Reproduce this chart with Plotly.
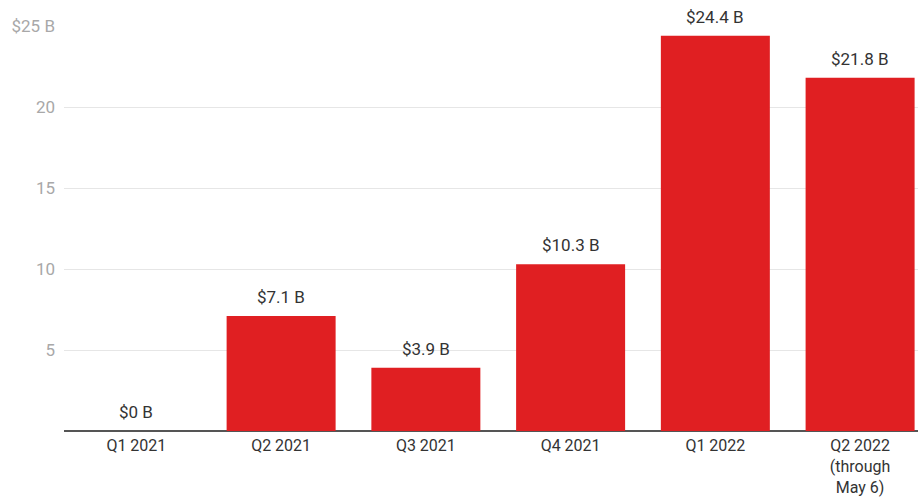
import plotly.graph_objects as go

quarters = ["Q1 2021", "Q2 2021", "Q3 2021", "Q4 2021", "Q1 2022", "Q2 2022<br>(through<br>May 6)"]
values = [0, 7.1, 3.9, 10.3, 24.4, 21.8]
value_labels = ["$0 B", "$7.1 B", "$3.9 B", "$10.3 B", "$24.4 B", "$21.8 B"]
tick_vals = [0, 5, 10, 15, 20, 25]
tick_text = ["", "5", "10", "15", "20", "$25 B"]

xs = list(range(len(quarters)))

fig = go.Figure()
fig.add_trace(go.Bar(
    x=xs, y=values,
    marker=dict(color="#e01f22", line=dict(width=0)),
    hoverinfo="skip",
))

for x, v, lbl in zip(xs, values, value_labels):
    fig.add_annotation(
        x=x, y=v, text=lbl, showarrow=False,
        yanchor="bottom", yshift=7,
        font=dict(family="Roboto", size=17, color="#333333"),
    )

fig.update_layout(
    width=918, height=498,
    margin=dict(l=64, r=0, t=26, b=67),
    paper_bgcolor="white", plot_bgcolor="white",
    bargap=0.247,
    showlegend=False,
    font=dict(family="Roboto"),
    xaxis=dict(
        tickmode="array", tickvals=xs, ticktext=quarters,
        range=[-0.5, 5.4],
        showgrid=False, zeroline=False,
        showline=False, ticks="",
        ticklabelstandoff=3,
        automargin=False,
        tickfont=dict(size=16, color="#333333"),
        fixedrange=True,
    ),
    yaxis=dict(
        range=[0, 25],
        tickmode="array", tickvals=tick_vals, ticktext=tick_text,
        showgrid=True, gridcolor="#e6e6e6", gridwidth=1,
        zeroline=True, zerolinecolor="#555555", zerolinewidth=2,
        showline=False, ticks="",
        ticklabelstandoff=8,
        automargin=False,
        tickfont=dict(size=17, color="#a8a8a8"),
        fixedrange=True,
    ),
)

fig.write_html("out.html")
